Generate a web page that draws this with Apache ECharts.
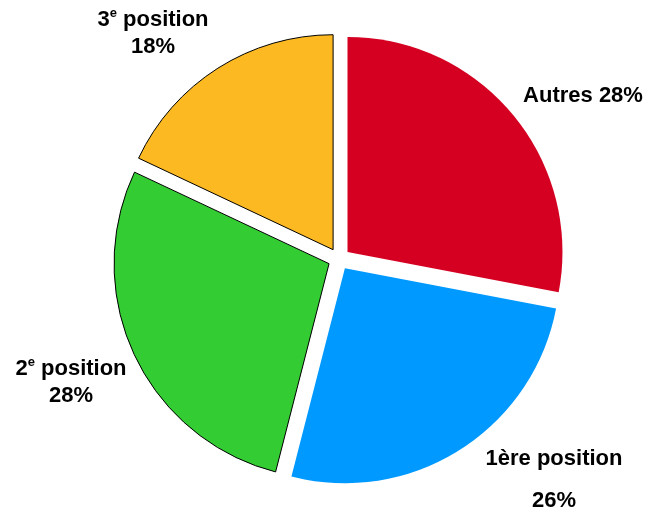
<!DOCTYPE html>
<html lang="fr">
<head>
<meta charset="UTF-8">
<title>Positions</title>
<script src="https://cdn.jsdelivr.net/npm/echarts@6/dist/echarts.min.js"></script>
<style>
  html, body { margin: 0; padding: 0; background: #fff; }
</style>
</head>
<body>
<div id="main" style="width: 647px;height: 513px"></div>
<script>
  // clockwise from 12 o'clock
  const names = ['Autres', '1ère position', '2e position', '3e position'];
  const values = [28, 26, 28, 18];
  const colors = ['#D50021', '#0099FF', '#33CC33', '#FDB922'];
  const bordered = [false, false, true, true];

  // label text (rich) for each slice
  const labelText = [
    '{a|Autres 28%}',
    '{a|1ère position}\n{g|}\n{a|26%}',
    '{a|2}{sup|e}{a| position}\n{a|28%}',
    '{a|3}{sup|e}{a| position}\n{a|18%}'
  ];
  // centre of each label block
  const labelPos = [[583, 96], [554, 480], [71, 382], [153, 33]];

  var chart = echarts.init(document.getElementById('main'));

  var boldText = {
    fontFamily: 'Liberation Sans',
    fontWeight: 'bold',
    fontSize: 22,
    color: '#000',
    lineHeight: 27
  };

  var option = {
    animation: false,
    series: [{
      // exploded slices (selected state gives the offset)
      type: 'pie',
      center: [339, 259],
      radius: 215,
      startAngle: 90,
      clockwise: true,
      selectedMode: 'multiple',
      selectedOffset: 11,
      label: { show: false },
      labelLine: { show: false },
      emphasis: { disabled: true },
      data: names.map(function (n, i) {
        return {
          name: n,
          value: values[i],
          selected: true,
          itemStyle: {
            color: colors[i],
            borderColor: bordered[i] ? '#000' : 'transparent',
            borderWidth: bordered[i] ? 1 : 0
          }
        };
      })
    }, {
      // same data, invisible, only carries the labels
      type: 'pie',
      silent: true,
      center: [339, 259],
      radius: 215,
      startAngle: 90,
      clockwise: true,
      itemStyle: { color: 'transparent', borderWidth: 0 },
      emphasis: { disabled: true },
      labelLine: { show: false },
      avoidLabelOverlap: false,
      label: {
        show: true,
        position: 'outside',
        formatter: function (p) { return labelText[p.dataIndex]; },
        rich: {
          a: boldText,
          sup: {
            fontFamily: 'Liberation Sans',
            fontWeight: 'bold',
            fontSize: 13,
            color: '#000',
            lineHeight: 27,
            padding: [0, 0, 12, 0]
          },
          g: { lineHeight: 15 }
        }
      },
      labelLayout: function (params) {
        var pos = labelPos[params.dataIndex];
        return {
          x: pos[0],
          y: pos[1],
          align: 'center',
          verticalAlign: 'middle'
        };
      },
      data: names.map(function (n, i) {
        return { name: n, value: values[i] };
      })
    }]
  };
  chart.setOption(option);
</script>
</body>
</html>
